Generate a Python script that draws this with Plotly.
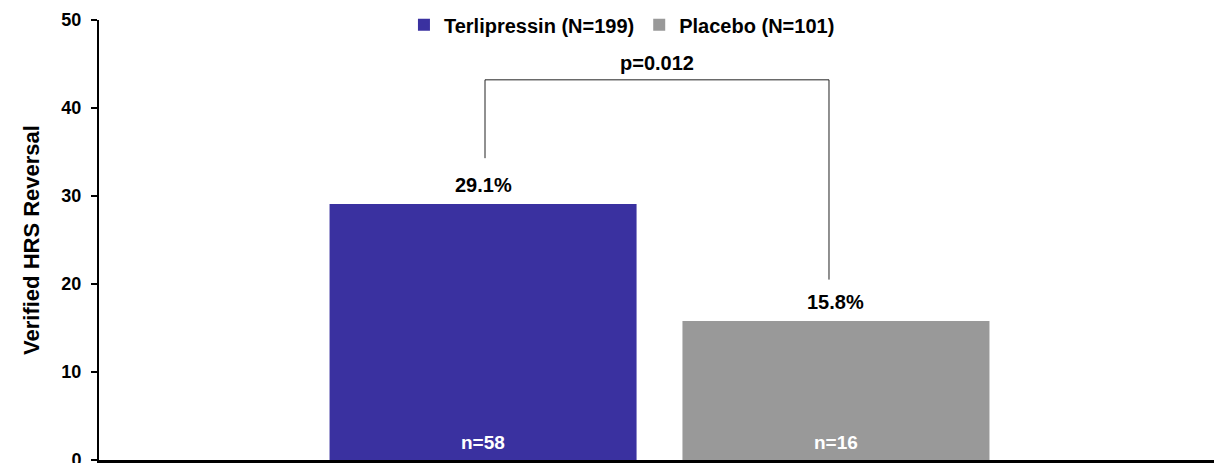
import plotly.graph_objects as go

# Verified HRS reversal by treatment arm
groups = ["Terlipressin (N=199)", "Placebo (N=101)"]
reversal_pct = [29.1, 15.8]
responders = [58, 16]
bar_colors = ["#3A31A0", "#999999"]
p_value = "p=0.012"
y_ticks = [0, 10, 20, 30, 40, 50]
category = ["HRS reversal"]

FONT = "Arial, Liberation Sans, sans-serif"

fig = go.Figure()
for name, pct, color in zip(groups, reversal_pct, bar_colors):
    fig.add_trace(go.Bar(
        x=category, y=[pct], name=name,
        marker=dict(color=color, line=dict(width=0)),
        hoverinfo="y+name",
    ))

# bar centres in axis units for the grouped layout
bargap, groupgap = 0.367, 0.13
n_groups = len(groups)
slot = (1 - bargap) / n_groups
centers = [(i + 0.5 - n_groups / 2) * slot for i in range(n_groups)]

annotations = []
for cx, pct, n in zip(centers, reversal_pct, responders):
    annotations.append(dict(
        x=cx, y=pct, xref="x", yref="y", text=f"<b>{pct:.1f}%</b>",
        showarrow=False, yanchor="bottom", yshift=6,
        font=dict(family=FONT, size=20, color="#000000"),
    ))
    annotations.append(dict(
        x=cx, y=0, xref="x", yref="y", text=f"<b>n={n}</b>",
        showarrow=False, yanchor="bottom", yshift=5,
        font=dict(family=FONT, size=19, color="#FFFFFF"),
    ))

# significance bracket between the two arms
bx0, bx1 = -0.1565, 0.152
b_top, b_left, b_right = 43.2, 34.3, 20.5
line_style = dict(color="#222222", width=1)
fig.add_shape(type="line", xref="x", yref="y", x0=bx0, x1=bx0, y0=b_left, y1=b_top, line=line_style)
fig.add_shape(type="line", xref="x", yref="y", x0=bx0, x1=bx1, y0=b_top, y1=b_top, line=line_style)
fig.add_shape(type="line", xref="x", yref="y", x0=bx1, x1=bx1, y0=b_top, y1=b_right, line=line_style)
annotations.append(dict(
    x=(bx0 + bx1) / 2, y=b_top, xref="x", yref="y", text=f"<b>{p_value}</b>",
    showarrow=False, yanchor="bottom", yshift=4,
    font=dict(family=FONT, size=20, color="#000000"),
))

fig.update_layout(
    width=1214, height=463,
    margin=dict(l=99, r=0, t=20, b=3, pad=0),
    paper_bgcolor="white", plot_bgcolor="white",
    barmode="group", bargap=bargap, bargroupgap=groupgap,
    font=dict(family=FONT, size=18, color="#000000"),
    annotations=annotations,
    legend=dict(
        orientation="h", x=0.2735, y=0.989, xanchor="left", yanchor="middle",
        font=dict(family=FONT, size=20, color="#000000", weight="bold"),
        bgcolor="rgba(0,0,0,0)", itemwidth=30,
    ),
    showlegend=True,
)
fig.update_xaxes(
    range=[-0.5027, 0.4973], showticklabels=False, ticks="",
    showline=True, linecolor="#000000", linewidth=3, showgrid=False,
    zeroline=False, fixedrange=True,
)
fig.update_yaxes(
    range=[0, 50], tickvals=y_ticks, ticks="outside", ticklen=6, tickwidth=2,
    tickcolor="#000000", showline=True, linecolor="#000000", linewidth=2,
    showgrid=False, zeroline=False, automargin=False, ticklabelstandoff=6,
    ticklabeloverflow="allow",
    tickfont=dict(family=FONT, size=18, color="#000000", weight="bold"),
    title=dict(text="<b>Verified HRS Reversal</b>", standoff=16,
               font=dict(family=FONT, size=22, color="#000000")),
)

fig.write_html("out.html")
